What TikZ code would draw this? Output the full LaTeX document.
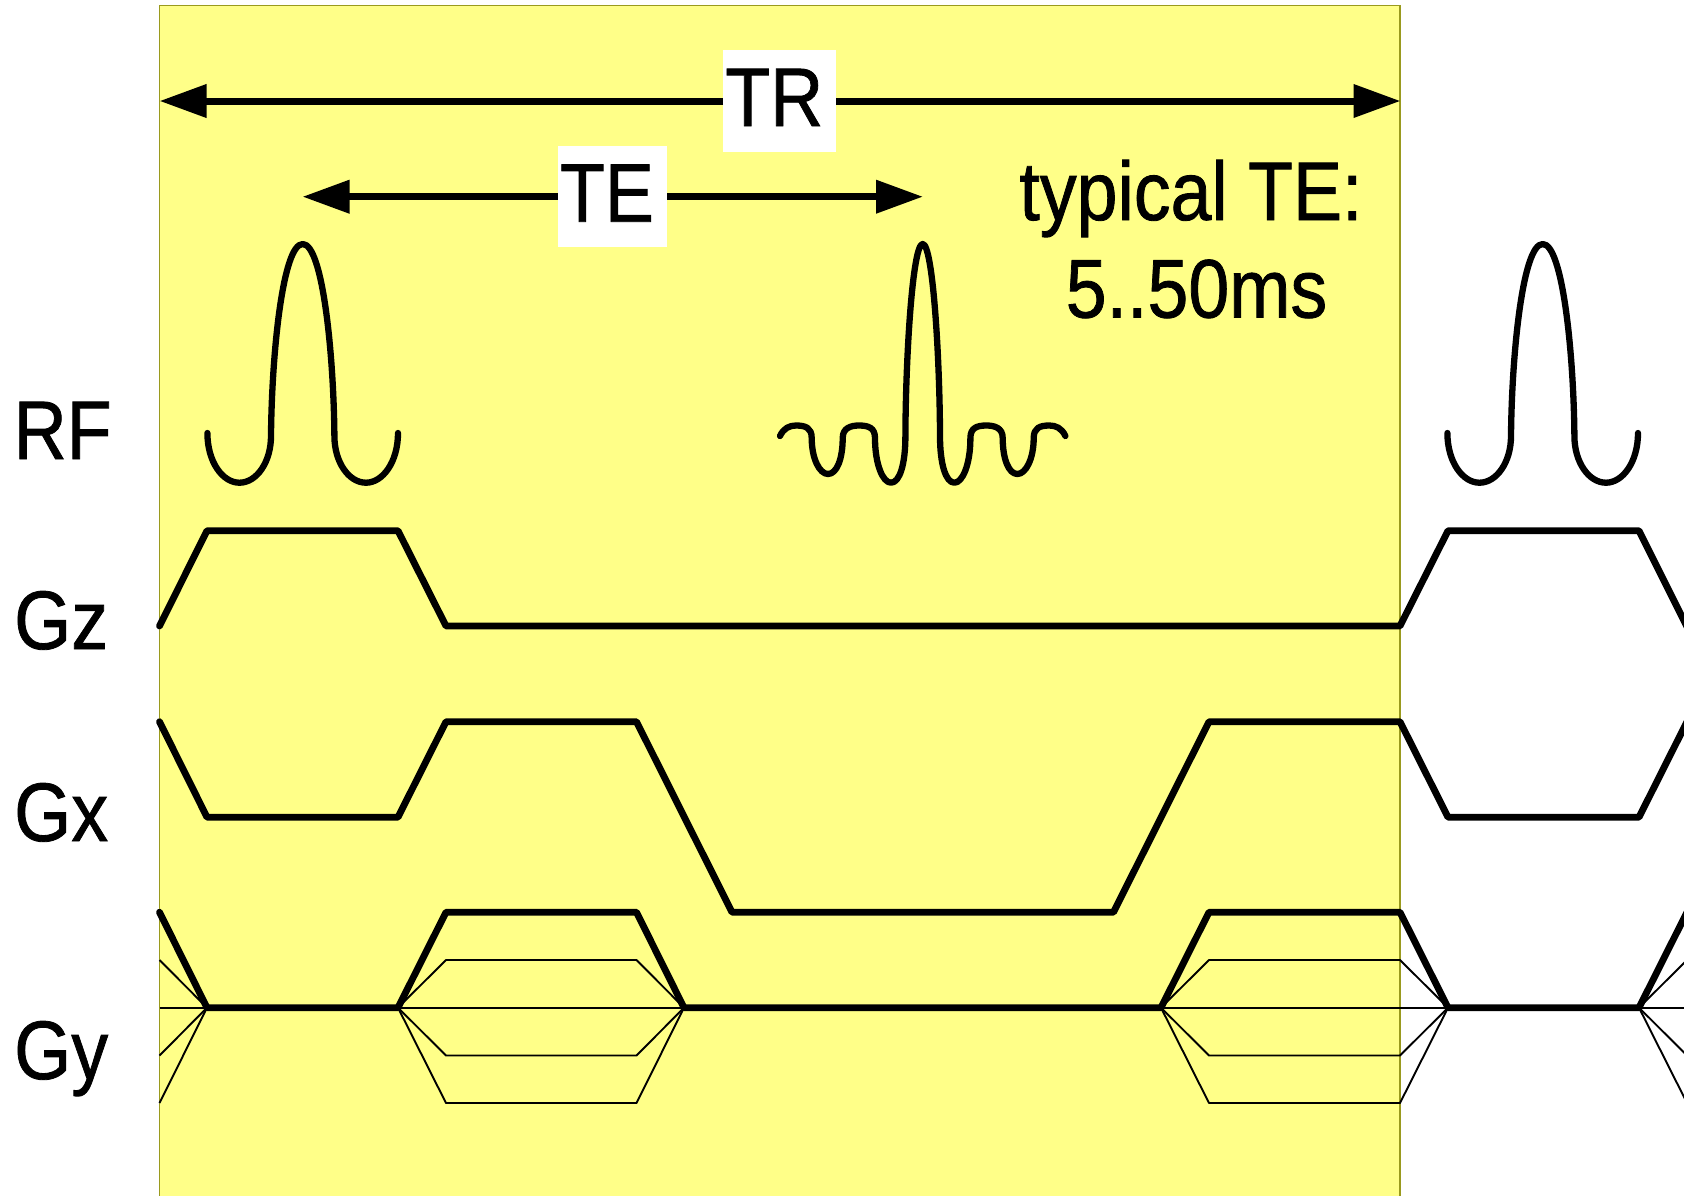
\documentclass[tikz,border=0pt]{standalone}
\usepackage{fontspec}
\setmainfont{Liberation Sans}
\newfontfamily\diagfont[FakeBold=1]{Liberation Sans}
\usetikzlibrary{arrows.meta}
\definecolor{panelfill}{HTML}{FFFF88}
\definecolor{paneledge}{HTML}{9A9A1E}
\newcommand{\bigtext}[1]{\diagfont\fontsize{73.5}{85}\selectfont\scalebox{1}[1.13]{#1}}
\tikzset{
  panel/.style={draw=paneledge,line width=1.2pt,fill=panelfill},
  span/.style={line width=7pt,-{Triangle[length=47pt,width=32pt]}},
  rowlabel/.style={inner sep=0pt,anchor=base west},
  boxed/.style={fill=white,inner sep=0pt,text height=75.6pt,text depth=25.6pt},
  rfline/.style={line width=6.3pt,line cap=round,line join=round},
  grad/.style={line width=6.8pt,line cap=round,line join=round},
  phase/.style={line width=1.9pt,line join=round},
}
\begin{document}
\begin{tikzpicture}[x=1pt,y=-1pt]
\useasboundingbox (0,0) rectangle (1684,1195);
\clip (0,0) rectangle (1684,1195);
\draw[panel] (159.5,5.5) rectangle (1400,1230);

% thin phase-encode lines
\draw[phase] (159.5,1007.7) -- (1690,1007.7);
\foreach \lv in {960,1055.5,1103}{
  \draw[phase] (159.5,\lv) -- (207,1007.7);
  \draw[phase] (398,1007.7) -- (446,\lv) -- (636.5,\lv) -- (684,1007.7);
  \draw[phase] (1161,1007.7) -- (1209,\lv) -- (1400,\lv) -- (1448,1007.7);
  \draw[phase] (1639,1007.7) -- (1687,\lv);
}

% gradients
\draw[grad] (159.5,626) -- (207,530.7) -- (398,530.7) -- (446,626) -- (1400,626) -- (1448,530.7) -- (1639,530.7) -- (1734,721);
\draw[grad] (159.5,721.7) -- (207,817.2) -- (398,817.2) -- (446,721.7) -- (636.5,721.7) -- (732,912.2) -- (1113.5,912.2) -- (1209,721.7) -- (1400,721.7) -- (1448,817.2) -- (1639,817.2) -- (1687,721.7);
\draw[grad] (159.5,912.2) -- (207,1007.7) -- (398,1007.7) -- (446,912.2) -- (636.5,912.2) -- (684,1007.7) -- (1161,1007.7) -- (1209,912.2) -- (1400,912.2) -- (1448,1007.7) -- (1639,1007.7) -- (1687,912.2);

% RF excitation pulses
\foreach \cx in {302.7,1542.7}{
\begin{scope}[shift={(\cx,244)}]
\draw[rfline] (-95.3,189) .. controls (-95.3,218) and (-80,238.7) .. (-63.3,238.7)
  .. controls (-46,238.7) and (-31.7,218) .. (-31.7,192)
  .. controls (-31,110) and (-20,0) .. (0,0)
  .. controls (20,0) and (31,110) .. (31.7,192)
  .. controls (31.7,218) and (46,238.7) .. (63.3,238.7)
  .. controls (80,238.7) and (95.3,218) .. (95.3,189);
\end{scope}}

% echo
\begin{scope}[shift={(922.7,244)}]
\draw[rfline] (-142.7,192) .. controls (-139,184) and (-133,181.5) .. (-126.7,181.5)
  .. controls (-117,181.5) and (-111,184) .. (-111,194)
  .. controls (-111,215) and (-103,230) .. (-94.7,230)
  .. controls (-86,230) and (-80,215) .. (-80,194)
  .. controls (-80,184) and (-72,181.5) .. (-63.7,181.5)
  .. controls (-54,181.5) and (-47.7,184) .. (-47.7,194)
  .. controls (-47.7,220) and (-40,238.7) .. (-31.7,238.7)
  .. controls (-23,238.7) and (-17.3,220) .. (-17.3,192)
  .. controls (-17,110) and (-10,0) .. (0,0)
  .. controls (10,0) and (17,110) .. (17.3,192)
  .. controls (17.3,220) and (23,238.7) .. (31.7,238.7)
  .. controls (40,238.7) and (47.7,220) .. (47.7,194)
  .. controls (47.7,184) and (54,181.5) .. (63.7,181.5)
  .. controls (72,181.5) and (80,184) .. (80,194)
  .. controls (80,215) and (86,230) .. (94.7,230)
  .. controls (103,230) and (111,215) .. (111,194)
  .. controls (111,184) and (117,181.5) .. (126.7,181.5)
  .. controls (133,181.5) and (139,184) .. (142.7,192);
\end{scope}

% TR / TE spans
\coordinate (trL) at (159.5,101);
\coordinate (trR) at (1400.5,101);
\coordinate (teL) at (302.5,196.7);
\coordinate (teR) at (923,196.7);
\node[boxed] (trbox) at (779.65,101) {\makebox[112.7pt][l]{\hspace{2pt}\bigtext{TR}}};
\node[boxed] (tebox) at (612.5,196.7) {\makebox[109pt][l]{\hspace{2pt}\bigtext{TE}}};
\draw[span] (trbox) -- (trL);
\draw[span] (trbox) -- (trR);
\draw[span] (tebox) -- (teL);
\draw[span] (tebox) -- (teR);

% texts
\node[inner sep=0pt,anchor=base] (typ) at (1191,220) {\bigtext{typical TE:}};
\node[inner sep=0pt,anchor=base] (typval) at (1196.5,317.5) {\bigtext{5..50ms}};
\node[rowlabel] (rf) at (13.5,459) {\bigtext{RF}};
\node[rowlabel] (gz) at (14,649) {\bigtext{Gz}};
\node[rowlabel] (gx) at (14,841) {\bigtext{Gx}};
\node[rowlabel] (gy) at (14,1079) {\bigtext{Gy}};
\end{tikzpicture}
\end{document}
